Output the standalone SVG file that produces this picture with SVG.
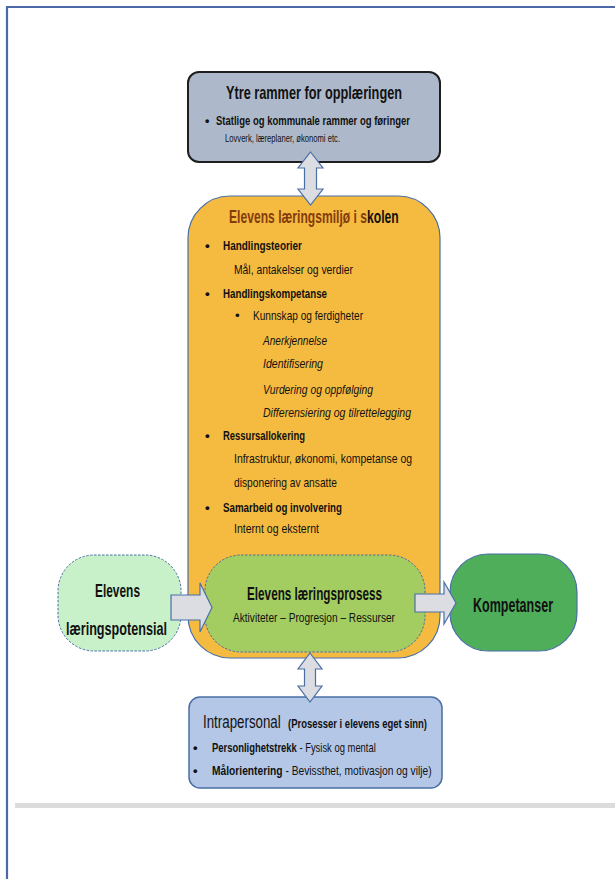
<svg xmlns="http://www.w3.org/2000/svg" width="615" height="879" viewBox="0 0 615 879">
<style>
text{font-family:"Liberation Sans Narrow","Liberation Sans",Arial,sans-serif;fill:#111}
.b{font-weight:bold}
.i{font-style:italic}
.h{font-size:18.5px;font-weight:bold}
.m{font-size:13.5px}
.brown{fill:#843c0c}
.conn{fill:#dcdde3;stroke:#4a6fa5;stroke-width:1.2}
</style>
<rect x="0" y="0" width="615" height="879" fill="#fff"/>
<path d="M7,879 V7 H615" fill="none" stroke="#4a69a6" stroke-width="2.2"/>
<rect x="15" y="803" width="600" height="5" fill="#dcdcdc"/>

<g id="ytre">
<rect x="188" y="72" width="252" height="90" rx="11" fill="#adb9ca" stroke="#1e1e1e" stroke-width="2"/>
<text x="226" y="99" class="h" textLength="176" lengthAdjust="spacingAndGlyphs">Ytre rammer for opplæringen</text>
<text x="205" y="125" class="b" font-size="12.5">•</text>
<text x="216" y="125" class="b" font-size="12.5" textLength="194" lengthAdjust="spacingAndGlyphs">Statlige og kommunale rammer og føringer</text>
<text x="225" y="142" font-size="10.5" textLength="115" lengthAdjust="spacingAndGlyphs">Lovverk, læreplaner, økonomi etc.</text>
</g>

<g id="miljo">
<rect x="188" y="196" width="252" height="462" rx="42" fill="#f5bb40" stroke="#4a6fa5" stroke-width="1.2"/>
<text transform="translate(229,223) scale(0.656,1)" x="0" y="0" class="h"><tspan class="brown">Elevens læringsmiljø i s</tspan>kolen</text>
<text x="205" y="250" class="m b">•</text>
<text x="223" y="250" class="m b" textLength="79" lengthAdjust="spacingAndGlyphs">Handlingsteorier</text>
<text x="234" y="274" class="m" textLength="119" lengthAdjust="spacingAndGlyphs">Mål, antakelser og verdier</text>
<text x="205" y="298" class="m b">•</text>
<text x="223" y="298" class="m b" textLength="104" lengthAdjust="spacingAndGlyphs">Handlingskompetanse</text>
<text x="235" y="320" class="m">•</text>
<text x="253" y="320" class="m" textLength="110" lengthAdjust="spacingAndGlyphs">Kunnskap og ferdigheter</text>
<text x="263" y="345" class="m i" textLength="64" lengthAdjust="spacingAndGlyphs">Anerkjennelse</text>
<text x="263" y="368" class="m i" textLength="60" lengthAdjust="spacingAndGlyphs">Identifisering</text>
<text x="263" y="394" class="m i" textLength="110" lengthAdjust="spacingAndGlyphs">Vurdering og oppfølging</text>
<text x="263" y="417" class="m i" textLength="148" lengthAdjust="spacingAndGlyphs">Differensiering og tilrettelegging</text>
<text x="205" y="440" class="m b">•</text>
<text x="223" y="440" class="m b" textLength="82" lengthAdjust="spacingAndGlyphs">Ressursallokering</text>
<text x="234" y="463" class="m" textLength="178" lengthAdjust="spacingAndGlyphs">Infrastruktur, økonomi, kompetanse og</text>
<text x="234" y="487" class="m" textLength="103" lengthAdjust="spacingAndGlyphs">disponering av ansatte</text>
<text x="205" y="512" class="m b">•</text>
<text x="223" y="512" class="m b" textLength="119" lengthAdjust="spacingAndGlyphs">Samarbeid og involvering</text>
<text x="234" y="533" class="m" textLength="85" lengthAdjust="spacingAndGlyphs">Internt og eksternt</text>
</g>

<g id="prosess">
<rect x="205" y="555" width="220" height="97" rx="36" fill="#a3cd60" stroke="#4a6fa5" stroke-width="1" stroke-dasharray="2.5,1.5"/>
<text x="247" y="600" class="h" textLength="135" lengthAdjust="spacingAndGlyphs">Elevens læringsprosess</text>
<text x="233" y="622" font-size="12.5" textLength="162" lengthAdjust="spacingAndGlyphs">Aktiviteter – Progresjon – Ressurser</text>
</g>

<g id="potensial">
<rect x="58" y="555" width="123" height="96" rx="36" fill="#c9f1c9" stroke="#4a6fa5" stroke-width="1" stroke-dasharray="2.5,1.5"/>
<text x="95" y="597" class="h" textLength="45" lengthAdjust="spacingAndGlyphs">Elevens</text>
<text x="66" y="635" class="h" textLength="101" lengthAdjust="spacingAndGlyphs">læringspotensial</text>
</g>

<g id="kompetanser">
<rect x="450" y="554" width="127" height="97" rx="38" fill="#4fae5a" stroke="#4a6fa5" stroke-width="1.2"/>
<text x="473" y="612" class="b" font-size="20" textLength="80" lengthAdjust="spacingAndGlyphs">Kompetanser</text>
</g>

<g id="intrapersonal">
<rect x="189" y="697" width="253" height="91" rx="11" fill="#b4c7e7" stroke="#4a6fa5" stroke-width="1.5"/>
<text transform="translate(203,728) scale(0.72,1)" x="0" y="0" font-size="18.5">Intrapersonal</text>
<text x="288" y="728" class="b" font-size="12.5" textLength="139" lengthAdjust="spacingAndGlyphs">(Prosesser i elevens eget sinn)</text>
<text x="193" y="752" class="b" font-size="13">•</text>
<text transform="translate(212,752) scale(0.725,1)" x="0" y="0" font-size="13"><tspan class="b">Personlighetstrekk</tspan> - Fysisk og mental</text>
<text x="193" y="775" class="b" font-size="13">•</text>
<text transform="translate(212,775) scale(0.789,1)" x="0" y="0" font-size="13"><tspan class="b">Målorientering</tspan> - Bevissthet, motivasjon og vilje)</text>
</g>

<g id="connectors">
<path class="conn" d="M310.5,152 L323,168 L316.5,168 L316.5,189 L323,189 L310.5,205 L298,189 L304.5,189 L304.5,168 L298,168 Z"/>
<path class="conn" d="M310,653 L322,669 L315.5,669 L315.5,686 L322,686 L310,702 L298,686 L304.5,686 L304.5,669 L298,669 Z"/>
<path class="conn" d="M171,595 H200 V583 L212,607.5 L200,632 V620 H171 Z"/>
<path class="conn" d="M415,594 H444 V582 L456,603 L444,624 V612 H415 Z"/>
</g>
</svg>
